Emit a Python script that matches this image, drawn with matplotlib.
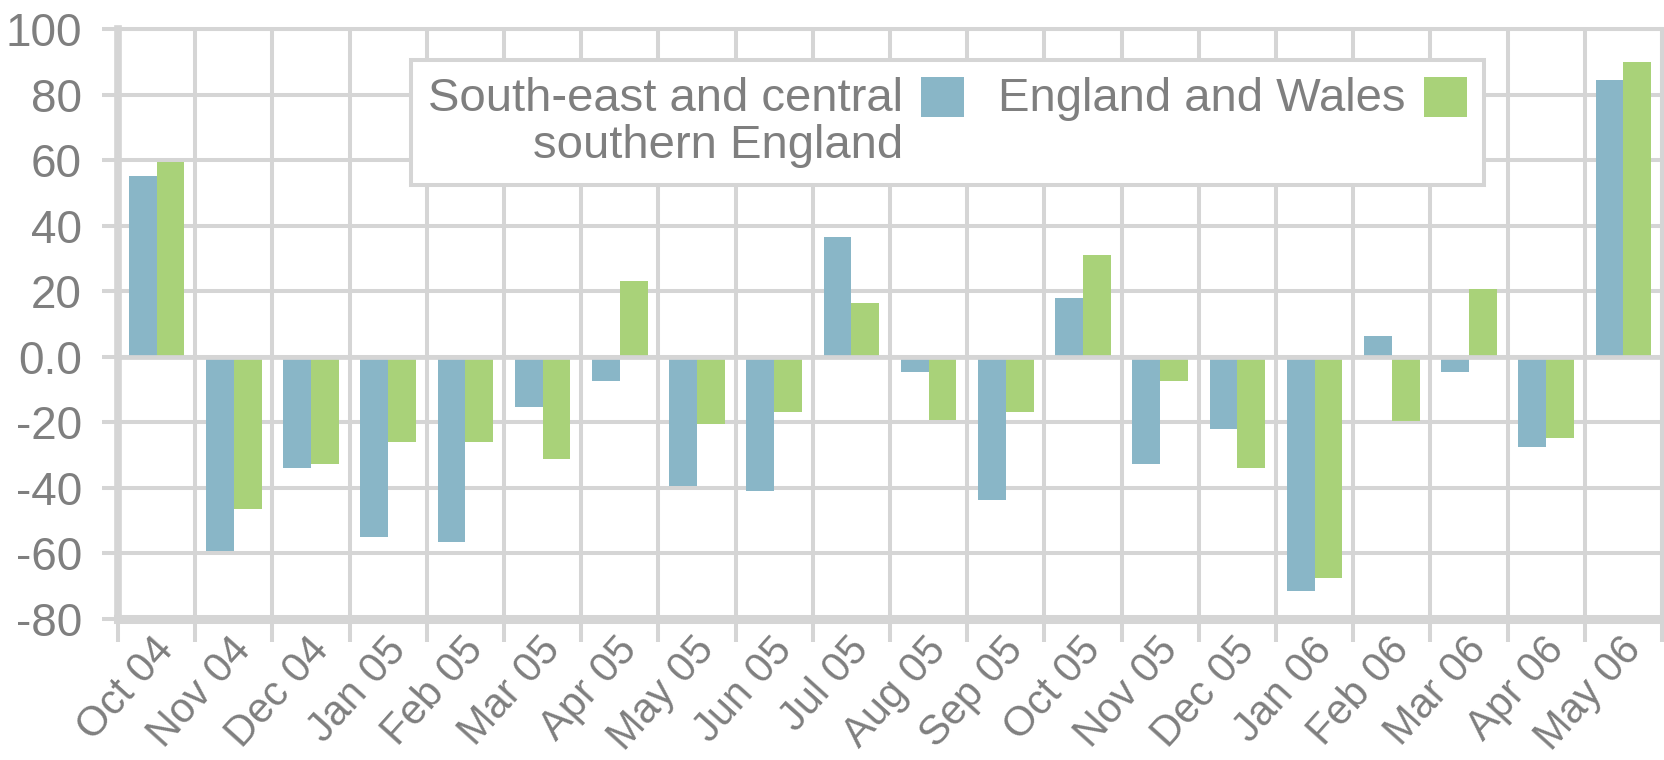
import numpy as np
import matplotlib.pyplot as plt
from matplotlib.transforms import ScaledTranslation

# Данные графика
months = ['Oct 04', 'Nov 04', 'Dec 04', 'Jan 05', 'Feb 05', 'Mar 05', 'Apr 05',
          'May 05', 'Jun 05', 'Jul 05', 'Aug 05', 'Sep 05', 'Oct 05', 'Nov 05',
          'Dec 05', 'Jan 06', 'Feb 06', 'Mar 06', 'Apr 06', 'May 06']
south_east = [55.3, -59.2, -33.9, -55.0, -56.4, -15.3, -7.3, -39.5, -40.8, 36.5,
              -4.7, -43.8, 17.8, -32.8, -22.0, -71.6, 6.2, -4.6, -27.5, 84.5]
england_wales = [59.4, -46.5, -32.7, -26.0, -26.0, -31.3, 23.2, -20.6, -16.7, 16.5,
                 -19.3, -16.7, 31.2, -7.3, -33.9, -67.5, -19.5, 20.6, -24.7, 89.9]
series_names = ['South-east and central\nsouthern England', 'England and Wales']
y_ticks = [-80, -60, -40, -20, 0, 20, 40, 60, 80, 100]
y_labels = ['-80', '-60', '-40', '-20', '0.0', '20', '40', '60', '80', '100']

grid_col = '#d5d5d5'
text_col = '#7f7f7f'
blue = '#89b6c7'
green = '#a9d279'

plt.rcParams['font.family'] = ['Liberation Sans', 'DejaVu Sans']
plt.rcParams['font.size'] = 34

fig = plt.figure(figsize=(16.64, 7.6), dpi=100)
ax = fig.add_axes([0.0709, 0.1855, 0.9279, 0.7763])

x = np.arange(len(months)) + 0.5
w = 0.36
ax.bar(x - w / 2, south_east, w, color=blue, label=series_names[0], zorder=3)
ax.bar(x + w / 2, england_wales, w, color=green, label=series_names[1], zorder=3)
ax.axhline(0, color=grid_col, lw=3.4, zorder=4)

ax.set_xlim(0, len(months))
ax.set_ylim(-80, 100)

# основные деления - границы месяцев (сетка), подписи - по центрам
ax.set_xticks(np.arange(len(months) + 1))
ax.set_xticklabels([])
ax.set_xticks(x, minor=True)
ax.set_xticklabels(months, minor=True, rotation=48, ha='right', va='top',
                   rotation_mode='anchor', color=text_col, fontsize=30)
ax.tick_params(axis='x', which='major', length=16.3, width=2.9, color=grid_col)
ax.tick_params(axis='x', which='minor', length=0, pad=8)
offset = ScaledTranslation(-4 / 100, 0, fig.dpi_scale_trans)
for lab in ax.get_xticklabels(minor=True):
    lab.set_transform(lab.get_transform() + offset)

ax.set_yticks(y_ticks)
ax.set_yticklabels(y_labels, color=text_col, fontsize=33)
ax.tick_params(axis='y', length=11.5, width=2.9, color=grid_col, pad=14.4)

ax.grid(True, which='major', color=grid_col, lw=2.9)
ax.set_axisbelow(True)

ax.spines['left'].set_linewidth(5.5)
ax.spines['bottom'].set_linewidth(6.5)
for s in ['top', 'right']:
    ax.spines[s].set_linewidth(2.9)
for s in ax.spines.values():
    s.set_color(grid_col)

leg = ax.legend(loc='upper left', bbox_to_anchor=(0.19, 0.947), ncol=2,
                markerfirst=False, fancybox=False, fontsize=34, borderpad=0.35,
                handletextpad=0.38, columnspacing=0.72, handlelength=0.92,
                handleheight=0.93, borderaxespad=0, labelcolor=text_col,
                framealpha=1)
leg.get_frame().set_edgecolor(grid_col)
leg.get_frame().set_linewidth(2.9)
for t in leg.get_texts():
    t.set_multialignment('right')
    t.set_linespacing(1.1)
# квадратик легенды - на уровне первой строки подписи
leg._legend_handle_box.align = 'top'
for col in leg._legend_handle_box.get_children():
    for item in col.get_children():
        item.align = 'top'

fig.savefig('out.png', dpi=100)
